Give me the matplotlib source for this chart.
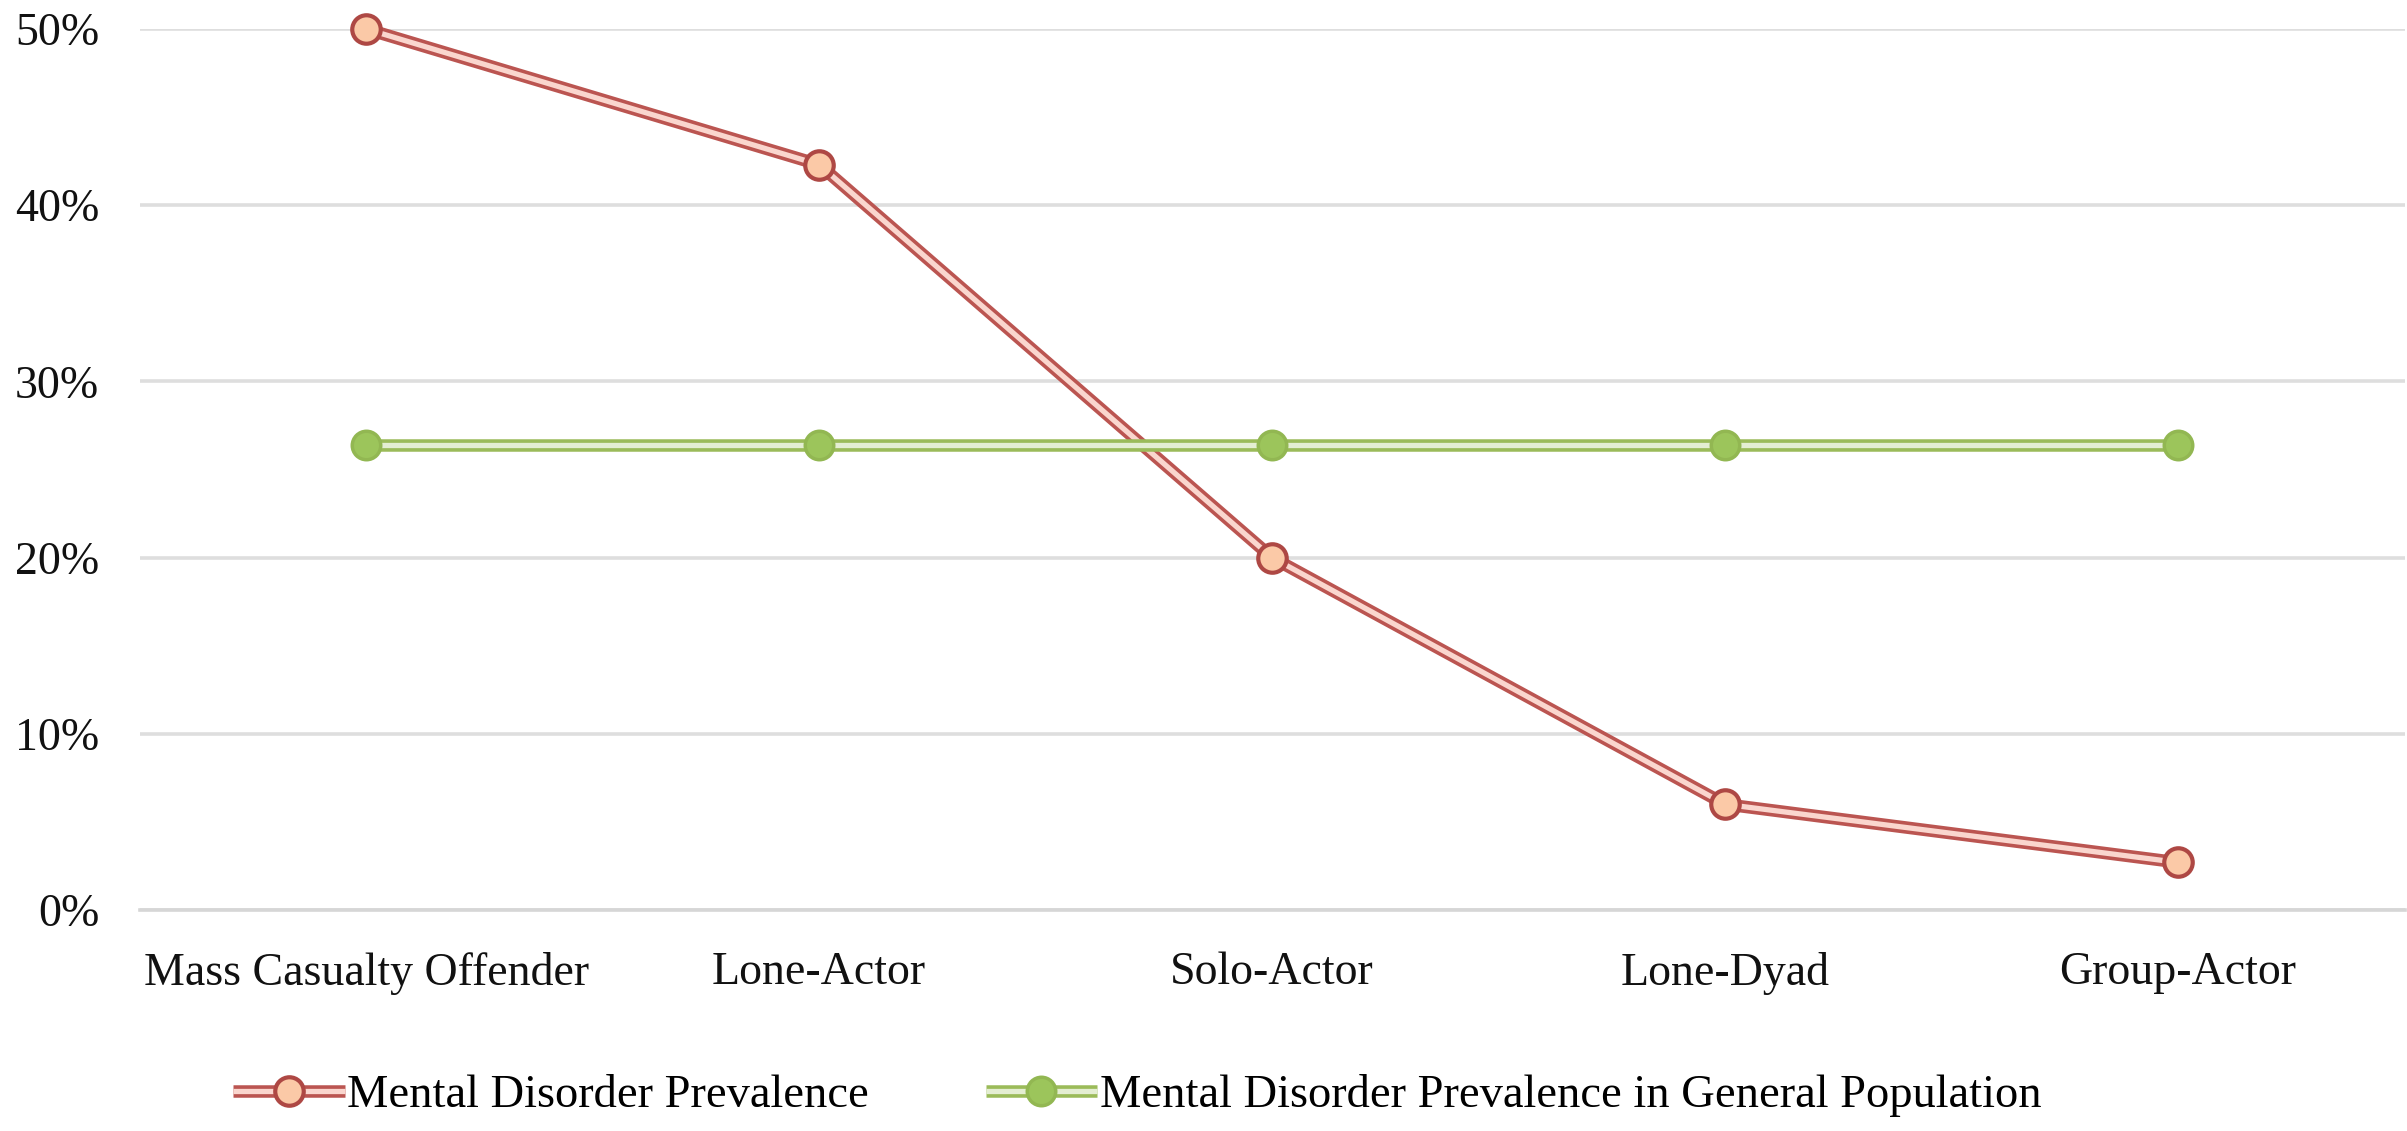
import numpy as np
import matplotlib.pyplot as plt

categories = ["Mass Casualty Offender", "Lone-Actor", "Solo-Actor", "Lone-Dyad", "Group-Actor"]
prevalence = [50.0, 42.3, 20.0, 6.0, 2.7]
general_population = [26.4, 26.4, 26.4, 26.4, 26.4]
yticks = [0, 10, 20, 30, 40, 50]
ytick_labels = ["0%", "10%", "20%", "30%", "40%", "50%"]

plt.rcParams['font.family'] = ['Liberation Serif', 'DejaVu Serif']

fig = plt.figure(figsize=(24.07, 11.31), dpi=100)
ax = fig.add_axes([0.058, 0.1954, 0.941, 0.779])

x = np.arange(len(categories))

# red series: dark outline line with a light core
red_out, = ax.plot(x, prevalence, color='#bb5551', lw=9, solid_capstyle='butt', zorder=3)
red_in, = ax.plot(x, prevalence, color='#fad6ce', lw=3.8, solid_capstyle='butt', zorder=3.1)
red_mk, = ax.plot(x, prevalence, 'o', ms=20.5, mfc='#fbc9a7', mec='#ae4844', mew=3, lw=0, zorder=3.2)

# green series
grn_out, = ax.plot(x, general_population, color='#9bbb59', lw=9, solid_capstyle='butt', zorder=4)
grn_in, = ax.plot(x, general_population, color='#e4eed2', lw=3.8, solid_capstyle='butt', zorder=4.1)
grn_mk, = ax.plot(x, general_population, 'o', ms=20.5, mfc='#9cc55b', mec='#92b752', mew=2.5, lw=0, zorder=4.2)

ax.set_xlim(-0.5, len(categories) - 0.5)
ax.set_ylim(0, 50)
ax.set_yticks(yticks)
ax.set_yticklabels(ytick_labels)
ax.set_xticks(x)
ax.set_xticklabels(categories)
ax.tick_params(axis='both', length=0, labelsize=33, colors='#111111')
ax.tick_params(axis='y', pad=29)
ax.tick_params(axis='x', pad=30)

ax.grid(axis='y', color='#dedede', lw=2.6)
ax.set_axisbelow(True)
for s in ['top', 'right', 'left']:
    ax.spines[s].set_visible(False)
ax.spines['bottom'].set_color('#d6d6d6')
ax.spines['bottom'].set_linewidth(2.6)
for ln in ax.lines:
    ln.set_clip_on(False)

fig.legend([(red_out, red_in, red_mk), (grn_out, grn_in, grn_mk)],
           ["Mental Disorder Prevalence", "Mental Disorder Prevalence in General Population"],
           loc='center left', bbox_to_anchor=(0.097, 0.031), ncol=2, frameon=False,
           fontsize=33.5, handlelength=2.4, handletextpad=0.05, columnspacing=2.5,
           borderpad=0, borderaxespad=0)

fig.savefig("out.png", dpi=100, facecolor='white')
